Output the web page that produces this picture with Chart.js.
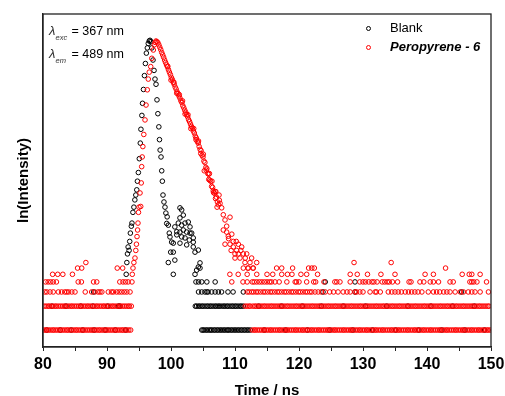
<!DOCTYPE html>
<html>
<head>
<meta charset="utf-8">
<script src="https://cdn.jsdelivr.net/npm/chart.js@4.4.0/dist/chart.umd.min.js"></script>
<style>
  html, body { margin: 0; padding: 0; background: #fff; }
  #wrap { width: 505px; height: 396px; position: relative; }
</style>
</head>
<body>
<div id="wrap"><canvas id="decayChart" width="505" height="396"></canvas></div>
<script>
// ln(Intensity) of the count floors (1..7 counts)
const floorLevels = [0, 0.69, 1.10, 1.39, 1.61, 1.79, 1.95];

// Blank (instrument response) – peak region as [time, ln]
const blankPeak = [
  [93.0,1.61],[93.1,1.95],[93.2,2.20],[93.3,2.40],[93.45,2.30],[93.55,2.56],[93.65,2.80],[93.8,3.00],
  [93.9,3.09],[94.05,3.40],[94.2,3.55],[94.35,3.76],[94.5,3.90],[94.65,4.05],[94.75,4.30],[94.9,4.55],
  [95.05,4.95],[95.2,5.40],[95.3,5.80],[95.45,6.20],[95.55,6.55],[95.7,6.95],[95.85,7.35],[96.0,7.70],
  [96.15,8.00],[96.3,8.15],[96.45,8.28],[96.6,8.35],[96.72,8.37],[96.85,8.33],[97.0,8.15],[97.19,7.80],
  [97.35,7.50],[97.5,7.25],[97.66,7.10],[97.81,6.65],[97.95,6.25],[98.1,5.87],[98.2,5.50],[98.3,5.20],
  [98.44,5.00],[98.55,4.60],[98.65,4.30],[98.75,3.90],[98.9,3.70],[99.06,3.55],[99.2,3.38],[99.33,3.08],
  [99.4,3.27],[99.58,3.03],[99.73,2.80],[99.84,2.69],[99.95,2.25],[100.1,2.54],[100.36,2.51],[100.36,2.25],
  [100.6,2.02],[99.58,1.95],[100.36,1.61],[100.6,2.98],[100.9,2.84],[100.9,2.75],[101.14,3.09],[101.4,3.53],
  [101.4,3.24],[101.4,2.83],[101.4,2.51],[101.67,3.47],[101.67,3.03],[101.67,2.69],[101.92,3.32],[101.92,2.89],
  [102.19,3.09],[102.19,2.66],[102.45,2.83],[102.45,2.46],[102.7,3.12],[102.86,2.60],[102.97,2.98],[102.97,2.80],
  [103.23,2.80],[103.48,2.66],[103.48,2.54],[103.48,2.40],[103.75,2.25],[104.0,1.73],[104.27,2.31],[104.27,1.82],
  [104.53,1.94],[104.53,1.79]
];

// Peropyrene - 6 – rise, decay and tail as [time, ln]
const peroPeak = [
  [94.06,1.79],[94.2,1.95],[94.37,2.08],[94.5,2.30],[94.6,2.48],[94.69,2.70],[94.78,2.89],[94.84,3.09],
  [94.92,3.40],[95.0,3.55],[95.16,3.96],[95.27,3.57],[95.35,4.25],[95.42,4.72],[95.5,5.00],[95.6,5.30],
  [95.75,5.65],[95.94,6.07],[96.1,6.50],[96.3,6.94],[96.45,7.25],[96.6,7.45],[96.83,7.61],[97.0,7.85],
  [97.24,8.09],[97.4,8.24],[97.52,8.31],[97.66,8.35],[97.8,8.33],[97.95,8.30],[98.1,8.24],[98.25,8.17],
  [98.4,8.10],[98.55,8.02],[98.7,7.95],[98.85,7.88],[99.0,7.80],[99.15,7.73],[99.3,7.66],[99.45,7.60],
  [99.6,7.52],[99.75,7.45],[99.9,7.38],[100.05,7.30],[100.2,7.24],[100.35,7.16],[100.5,7.10],[100.65,7.02],
  [100.8,6.96],[100.95,6.88],[101.1,6.83],[101.25,6.76],[101.4,6.70],[101.55,6.62],[101.7,6.57],[101.85,6.48],
  [102.0,6.42],[102.15,6.35],[102.3,6.29],[102.45,6.22],[102.6,6.16],[102.75,6.08],[102.9,6.02],[103.05,5.95],
  [103.2,5.88],[103.35,5.84],[103.5,5.75],[103.65,5.69],[103.8,5.60],[103.95,5.55],[104.1,5.45],[104.25,5.40],
  [104.4,5.30],[104.55,5.22],[104.7,5.18],[104.85,5.05],[105.0,5.00],[105.15,4.88],[105.3,4.84],[105.45,4.70],
  [105.6,4.66],[105.75,4.52],[105.9,4.50],[106.05,4.33],[106.2,4.30],[106.35,4.15],[106.5,4.12],[106.65,3.97],
  [106.8,3.95],[106.95,3.80],[107.1,3.84],[107.25,3.70],[107.4,3.62],[107.55,3.75],[105.2,4.60],[105.9,4.35],
  [106.4,4.30],[106.9,4.00],[107.2,3.55],[107.5,3.90],
  [99.5,7.62],[100.0,7.22],[100.45,7.16],[100.9,6.84],[101.3,6.80],[101.8,6.62],[102.2,6.24],[102.65,6.22],
  [103.1,5.82],[103.55,5.82],[103.9,5.50],[104.3,5.46],[104.65,5.10],[105.05,5.08],[105.5,4.62],[106.0,4.52],
  [106.6,4.02],[107.0,4.00],
  [107.66,3.66],[107.92,3.53],[108.17,3.33],[108.44,3.18],[108.7,3.00],[109.22,3.26],[108.17,2.89],[108.7,2.83],
  [108.95,2.71],[108.44,2.48],[109.22,2.48],[109.73,2.56],[110.52,2.48],[109.73,2.40],[110.27,2.30],[111.05,2.40],
  [110.0,2.20],[110.52,2.20],[111.3,2.20],[111.83,2.20],[110.0,2.08],[110.78,2.08],[111.56,1.95],[112.34,1.95],
  [113.39,1.95],[111.3,1.79],[112.08,1.79],[112.86,1.79],[109.0,2.64],[109.5,2.77],[109.4,2.30],[110.2,2.56],
  [110.9,2.30],[111.6,2.08],[112.6,2.08]
];

// Peropyrene - 6 – times of the points sitting on each count floor
const peroFloor0 = [
  80.1,80.4,80.6,80.9,81.2,81.5,81.7,82.0,82.3,82.6,82.8,83.1,83.4,83.7,83.9,84.2,84.5,84.8,85.1,85.3,85.6,85.9,
  86.2,86.4,86.7,87.0,87.3,87.6,87.8,88.1,88.4,88.7,88.9,89.2,89.5,89.8,90.0,90.3,90.6,90.9,91.2,91.4,91.7,92.0,
  92.3,92.5,92.8,93.1,93.4,93.7,
  112.7,113.0,113.2,113.5,113.8,114.1,114.4,114.6,114.9,115.2,115.5,115.7,116.0,116.3,116.6,116.9,117.1,117.4,
  117.7,118.0,118.2,118.5,118.8,119.1,119.4,119.6,119.9,120.2,120.5,120.7,121.0,121.3,121.6,121.9,122.1,122.4,
  122.7,123.0,123.2,123.5,123.8,124.1,124.4,124.6,124.9,125.2,125.5,125.7,126.0,126.3,126.6,126.9,127.1,127.4,
  127.7,128.0,128.2,128.5,128.8,129.1,129.4,129.6,129.9,130.2,130.5,130.7,131.0,131.3,131.6,131.9,132.1,132.4,
  132.7,133.0,133.2,133.5,133.8,134.1,134.4,134.6,134.9,135.2,135.5,135.7,136.0,136.3,136.6,136.9,137.1,137.4,
  137.7,138.0,138.2,138.5,138.8,139.1,139.4,139.6,139.9,140.2,140.5,140.7,141.0,141.3,141.6,141.9,142.1,142.4,
  142.7,143.0,143.2,143.5,143.8,144.1,144.4,144.6,144.9,145.2,145.5,145.7,146.0,146.3,146.6,146.9,147.1,147.4,
  147.7,148.0,148.2,148.5,148.8,149.1,149.4,149.6,149.9
];
const peroFloor1 = [
  80.2,80.5,80.8,81.0,81.3,81.6,81.9,82.1,82.4,82.7,83.0,83.3,83.5,83.8,84.1,84.4,84.6,84.9,85.2,85.5,85.8,86.0,
  86.3,86.6,86.9,87.1,87.4,87.7,88.0,88.3,88.5,88.8,89.1,89.4,89.6,89.9,90.2,90.5,90.8,91.0,91.3,91.6,91.9,92.1,
  92.4,92.7,93.0,93.3,93.5,93.8,
  111.6,111.9,112.2,112.4,112.8,113.1,113.3,113.6,113.9,114.2,114.5,114.7,115.0,115.3,115.6,115.8,116.1,116.4,
  116.7,117.0,117.2,117.5,117.8,118.1,118.3,118.6,118.9,119.2,119.5,119.7,120.0,120.3,120.6,120.8,121.1,121.4,
  121.7,122.0,122.2,122.5,122.8,123.1,123.3,123.6,123.9,124.2,124.5,124.7,125.0,125.3,125.6,125.8,126.1,126.4,
  126.7,127.0,127.2,127.5,127.8,128.1,128.3,128.6,128.9,129.2,129.5,129.7,130.0,130.3,130.6,130.8,131.1,131.4,
  131.7,132.0,132.2,132.5,132.8,133.1,133.3,133.6,133.9,134.2,134.5,134.7,135.0,135.3,135.6,135.8,136.1,136.4,
  136.7,137.0,137.2,137.5,137.8,138.1,138.3,138.6,138.9,139.2,139.5,139.7,140.0,140.3,140.6,140.8,141.1,141.4,
  141.7,142.0,142.2,142.5,142.8,143.1,143.3,143.6,143.9,144.2,144.5,144.7,145.0,145.3,145.6,145.8,146.1,146.4,
  146.7,147.0,147.2,147.5,147.8,148.1,148.3,148.6,148.9,149.2,149.5,149.7
];
const peroFloor2 = [
  80.3,80.6,81.1,81.6,82.4,82.9,83.4,83.7,84.0,84.5,85.0,86.6,87.6,88.1,88.6,88.9,89.2,90.2,90.7,91.0,91.5,91.9,
  92.3,92.7,93.1,93.6,
  111.9,112.2,112.6,112.9,113.3,113.6,114.0,114.4,114.7,115.1,115.5,115.8,116.2,116.6,116.9,117.3,117.7,118.0,
  118.4,118.8,119.1,119.5,119.9,120.2,120.6,121.0,121.3,121.7,122.0,122.5,123.0,123.5,124.1,124.8,125.4,126.1,
  126.9,127.5,128.0,128.75,129.0,129.5,130.0,131.1,131.9,132.1,132.7,133.95,134.5,135.0,135.5,136.0,136.6,137.1,
  137.6,138.1,138.6,139.2,140.2,141.0,141.5,142.0,142.6,143.1,143.6,144.4,145.2,145.7,146.45,147.0,147.5,148.3,
  149.6
];
const peroFloor3 = [
  80.4,80.8,81.2,81.6,82.1,85.5,86.0,87.9,88.4,92.0,92.5,92.9,93.3,93.9,
  109.5,111.25,111.9,112.7,113.0,113.4,113.8,114.2,114.6,115.0,115.4,115.7,116.25,116.9,118.1,119.4,119.6,120.0,
  121.2,122.3,122.6,123.9,125.6,125.9,126.4,128.0,129.5,130.0,130.4,130.9,131.4,131.7,132.2,133.0,133.4,133.8,
  134.1,134.6,135.4,137.2,137.5,138.9,139.5,140.5,141.0,141.8,143.6,144.1,146.7,147.0,147.3,147.8,149.3
];
const peroFloor4 = [
  81.5,82.3,83.1,84.6,93.95,109.2,110.5,111.9,113.4,115.0,115.9,117.3,118.2,118.9,120.3,121.2,122.9,128.0,
  129.1,130.7,132.8,135.0,139.7,141.0,145.5,146.6,147.0,148.3
];
const peroFloor5 = [85.4,86.05,91.6,92.45,112.0,112.8,116.5,117.3,119.0,121.5,122.0,122.4,142.9];
const peroFloor6 = [86.7,128.6,134.4];

// Blank – times of the points on each count floor
const blankFloor0 = [
  80.6,82.7,84.4,86.2,88.0,89.7,91.3,92.9,
  104.8,105.0,105.2,105.5,105.7,106.0,106.2,106.4,106.7,106.9,107.2,107.4,107.7,107.9,108.2,108.4,108.7,108.9,
  109.1,109.4,109.6,109.9,110.1,110.4,110.6,110.9,111.1,111.4,111.6,111.9,112.1,112.4,
  114.6,117.9,121.3,124.8,128.4,131.5,135.1,138.7,142.3,145.9,149.0
];
const blankFloor1 = [
  81.4,83.6,85.9,87.8,90.1,91.8,92.0,
  103.8,104.0,104.3,104.5,104.8,105.0,105.3,105.6,105.8,106.1,106.3,106.6,106.9,107.1,107.4,107.6,107.9,108.2,
  108.4,108.7,108.9,109.2,109.5,109.7,110.0,110.2,110.5,110.8,111.0,111.3,
  113.7,117.3,120.5,123.5,126.9,130.4,133.7,137.0,140.6,144.0,147.4
];
const blankFloor2 = [87.9,104.3,104.8,105.3,105.6,105.8,106.35,106.9,107.4,107.9,108.9,109.7,111.3,123.75,128.75,145.4];
const blankFloor3 = [103.9,104.3,104.8,105.6,106.9,124.1,128.75];
const blankFloor4 = [103.75];
const blankFloor5 = [];
const blankFloor6 = [];

const seriesNames = ['Blank', 'Peropyrene - 6'];
const lambdaSubs = ['exc', 'em'];
const lambdaValues = ['367 nm', '489 nm'];

function toPoints(peak, floors) {
    const pts = peak.map(p => ({ x: p[0], y: p[1] }));
    floors.forEach((times, i) => {
        times.forEach(t => pts.push({ x: t, y: floorLevels[i] }));
    });
    return pts;
}

const blankPoints = toPoints(blankPeak, [blankFloor0, blankFloor1, blankFloor2, blankFloor3, blankFloor4, blankFloor5, blankFloor6]);
const peroPoints = toPoints(peroPeak, [peroFloor0, peroFloor1, peroFloor2, peroFloor3, peroFloor4, peroFloor5, peroFloor6]);

const FONT = '"Liberation Sans", Arial, sans-serif';
const colors = ['#000000', '#ff0000'];

// frame round the plot area (top and right sides too)
const framePlugin = {
    id: 'frame',
    afterDraw(chart) {
        const { ctx, chartArea: a } = chart;
        ctx.save();
        ctx.strokeStyle = '#222';
        ctx.lineWidth = 1.3;
        ctx.strokeRect(a.left, a.top, a.right - a.left, a.bottom - a.top);
        ctx.restore();
    }
};

// lambda labels and legend
const notesPlugin = {
    id: 'notes',
    afterDraw(chart) {
        const ctx = chart.ctx;
        ctx.save();
        ctx.textBaseline = 'alphabetic';
        ctx.textAlign = 'left';
        lambdaSubs.forEach((sub, i) => {
            const y = 35 + i * 23;
            ctx.fillStyle = '#333';
            ctx.font = 'italic 13px ' + FONT;
            ctx.fillText('\u03BB', 49, y);
            ctx.font = 'italic 7.5px ' + FONT;
            ctx.fillText(sub, 55.5, y + 4.5);
            ctx.fillStyle = '#000';
            ctx.font = '12.5px ' + FONT;
            ctx.fillText('= ' + lambdaValues[i], 71.5, y);
        });

        const legendFonts = ['13px ' + FONT, 'italic bold 13px ' + FONT];
        seriesNames.forEach((name, i) => {
            const y = 28.5 + i * 19;
            ctx.beginPath();
            ctx.arc(368.5, y, 2, 0, Math.PI * 2);
            ctx.strokeStyle = colors[i];
            ctx.lineWidth = 1;
            ctx.stroke();
            ctx.fillStyle = '#000';
            ctx.font = legendFonts[i];
            ctx.textBaseline = 'middle';
            ctx.fillText(name, 390, y);
        });
        ctx.restore();
    }
};

new Chart(document.getElementById('decayChart'), {
    type: 'scatter',
    data: {
        datasets: [
            {
                label: seriesNames[0],
                data: blankPoints,
                borderColor: colors[0],
                backgroundColor: 'transparent',
                borderWidth: 1,
                pointRadius: 2.3,
                pointHoverRadius: 2.3,
                order: 2
            },
            {
                label: seriesNames[1],
                data: peroPoints,
                borderColor: colors[1],
                backgroundColor: 'transparent',
                borderWidth: 1,
                pointRadius: 2.3,
                pointHoverRadius: 2.3,
                order: 1
            }
        ]
    },
    options: {
        responsive: false,
        animation: false,
        layout: { padding: { top: 14, right: 14, left: 0, bottom: 0 } },
        plugins: {
            legend: { display: false },
            tooltip: { enabled: false }
        },
        scales: {
            x: {
                type: 'linear',
                min: 80,
                max: 150,
                afterFit(scale) {
                    scale.height = 49;
                    scale.paddingLeft = 0;
                    scale.paddingRight = 0;
                },
                ticks: {
                    stepSize: 5,
                    autoSkip: false,
                    maxRotation: 0,
                    padding: 4,
                    color: '#000',
                    font: { family: FONT, size: 16, weight: 'bold' },
                    callback: v => (v % 10 === 0 ? v : '')
                },
                grid: {
                    display: true,
                    drawOnChartArea: false,
                    drawTicks: true,
                    tickLength: 4,
                    color: '#222',
                    lineWidth: 1
                },
                border: { display: true, color: '#222', width: 1.3 },
                title: {
                    display: true,
                    text: 'Time / ns',
                    color: '#000',
                    font: { family: FONT, size: 15, weight: 'bold', lineHeight: 1 },
                    padding: { top: 0, bottom: -2 }
                }
            },
            y: {
                type: 'linear',
                min: -0.49,
                max: 9.13,
                afterFit(scale) {
                    scale.width = 43;
                },
                ticks: { display: false },
                grid: { display: false },
                border: { display: true, color: '#222', width: 1.3 },
                title: {
                    display: true,
                    text: 'ln(Intensity)',
                    color: '#000',
                    font: { family: FONT, size: 15, weight: 'bold' },
                    padding: { top: 15, bottom: 0 }
                }
            }
        }
    },
    plugins: [framePlugin, notesPlugin]
});
</script>
</body>
</html>
